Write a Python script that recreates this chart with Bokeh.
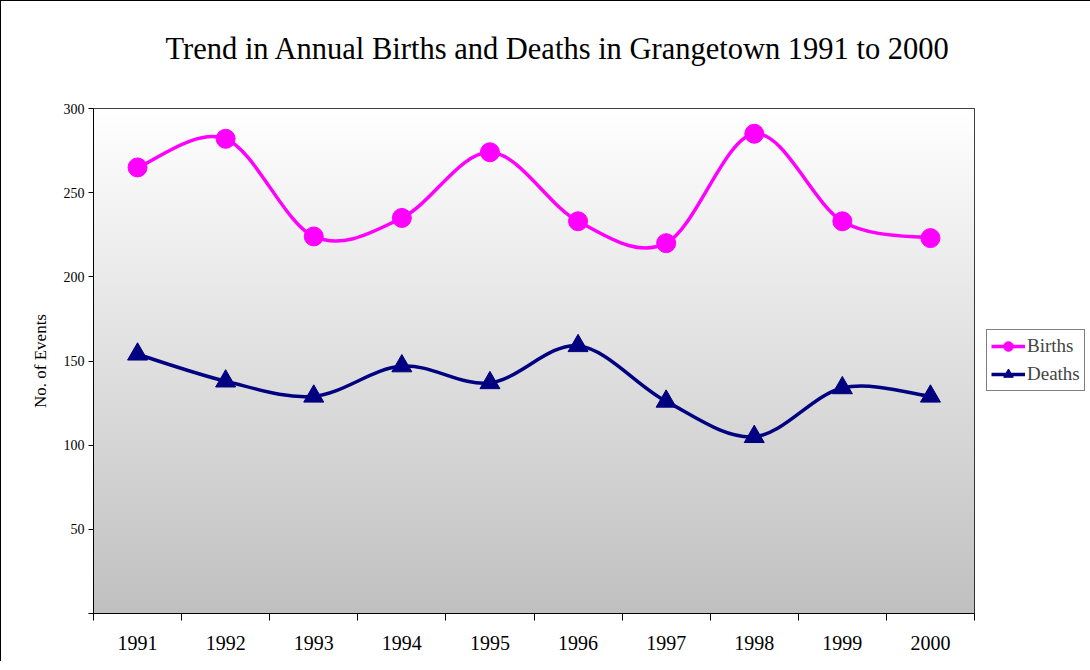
import numpy as np
from bokeh.plotting import figure
from bokeh.models import Range1d, FixedTicker, Legend, LegendItem, Title, ColumnDataSource
from bokeh.embed import file_html
from bokeh.resources import INLINE

years = ["1991", "1992", "1993", "1994", "1995", "1996", "1997", "1998", "1999", "2000"]
births = [265, 282, 224, 235, 274, 233, 220, 285, 233, 223]
deaths = [154, 138, 129, 147, 137, 159, 126, 105, 134, 129]
y_ticks = [0, 50, 100, 150, 200, 250, 300]

SERIF = "Liberation Serif"
n = len(years)
xs = list(range(1, n + 1))

p = figure(frame_width=881, frame_height=505, output_backend="svg", toolbar_location=None,
           x_range=Range1d(0.5, n + 0.5), y_range=Range1d(0, 300),
           min_border_left=92, min_border_right=108, min_border_top=107, min_border_bottom=48)
p.styles = {"border-left": "1px solid black", "border-top": "1px solid black"}
p.background_fill_color = "white"
p.border_fill_color = "white"
p.outline_line_color = "black"
p.outline_line_width = 1

# gradient background of plot area
N = 256
grad = np.zeros((N, 1), dtype=np.uint32)
view = grad.view(dtype=np.uint8).reshape((N, 1, 4))
for i in range(N):
    t = i / (N - 1)  # 0 bottom, 1 top
    c = int(round(192 + (255 - 192) * t))
    view[i, 0, :] = [c, c, c, 255]
p.image_rgba(image=[grad], x=p.x_range.start, y=p.y_range.start,
             dw=p.x_range.end - p.x_range.start, dh=p.y_range.end - p.y_range.start)

# grid
p.xgrid.grid_line_color = None
p.ygrid.grid_line_color = "black"
p.ygrid.grid_line_width = 1
p.ygrid.ticker = FixedTicker(ticks=y_ticks)


def smooth_curve(x, y):
    x = np.asarray(x, float)
    y = np.asarray(y, float)
    m = len(x)
    x0, y0, x1, y1, cx0, cy0, cx1, cy1 = [], [], [], [], [], [], [], []
    for i in range(m - 1):
        ip = max(i - 1, 0)
        inx = min(i + 2, m - 1)
        x0.append(x[i]); y0.append(y[i])
        x1.append(x[i + 1]); y1.append(y[i + 1])
        cx0.append(x[i] + (x[i + 1] - x[ip]) / 6.0)
        cy0.append(y[i] + (y[i + 1] - y[ip]) / 6.0)
        cx1.append(x[i + 1] - (x[inx] - x[i]) / 6.0)
        cy1.append(y[i + 1] - (y[inx] - y[i]) / 6.0)
    return dict(x0=x0, y0=y0, x1=x1, y1=y1, cx0=cx0, cy0=cy0, cx1=cx1, cy1=cy1)


BCOL = "#FF00FF"
DCOL = "#000080"

p.bezier(source=ColumnDataSource(smooth_curve(xs, births)), x0="x0", y0="y0", x1="x1", y1="y1",
         cx0="cx0", cy0="cy0", cx1="cx1", cy1="cy1", line_color=BCOL, line_width=3.5)
p.bezier(source=ColumnDataSource(smooth_curve(xs, deaths)), x0="x0", y0="y0", x1="x1", y1="y1",
         cx0="cx0", cy0="cy0", cx1="cx1", cy1="cy1", line_color=DCOL, line_width=3.5)

bs = p.scatter(xs, births, marker="circle", size=19, fill_color=BCOL, line_color=BCOL)
ds = p.scatter(xs, deaths, marker="triangle", size=20, fill_color=DCOL, line_color=DCOL)

# legend-only line renderers (nothing plotted)
bl = p.line(x=[np.nan, np.nan], y=[np.nan, np.nan], line_color=BCOL, line_width=3.5)
dl = p.line(x=[np.nan, np.nan], y=[np.nan, np.nan], line_color=DCOL, line_width=3.5)

legend = Legend(items=[LegendItem(label="Births", renderers=[bl, bs]),
                       LegendItem(label="Deaths", renderers=[dl, ds])],
                location=(12, 222), orientation="vertical",
                border_line_color="black", border_line_width=1,
                background_fill_color="white", background_fill_alpha=1.0,
                label_text_font=SERIF, label_text_font_size="19px",
                glyph_width=34, glyph_height=24, label_height=24, label_standoff=2,
                padding=4, spacing=4, margin=0)
p.add_layout(legend, "right")

# axes
xa = p.xaxis[0]
xa.ticker = FixedTicker(ticks=xs, minor_ticks=[k + 0.5 for k in range(0, n + 1)])
xa.major_label_overrides = {k: years[k - 1] for k in xs}
xa.major_tick_line_color = None
xa.major_tick_out = 0
xa.major_tick_in = 0
xa.minor_tick_line_color = "black"
xa.minor_tick_out = 7
xa.minor_tick_in = 0
xa.axis_line_color = "black"
xa.major_label_text_font = SERIF
xa.major_label_text_font_size = "20px"
xa.major_label_text_color = "black"
xa.major_label_standoff = 15

ya = p.yaxis[0]
ya.ticker = FixedTicker(ticks=y_ticks)
ya.major_label_overrides = {0: ""}
ya.minor_tick_line_color = None
ya.major_tick_out = 5
ya.major_tick_in = 0
ya.major_tick_line_color = "black"
ya.axis_line_color = "black"
ya.major_label_text_font = SERIF
ya.major_label_text_font_size = "14px"
ya.major_label_text_color = "black"
ya.major_label_standoff = 4
ya.axis_label = "No. of Events"
ya.axis_label_text_font = SERIF
ya.axis_label_text_font_size = "17px"
ya.axis_label_text_font_style = "normal"
ya.axis_label_text_color = "black"
ya.axis_label_standoff = 11

# spacer title (closest to the frame) pushes the real title upward
p.add_layout(Title(text=" ", text_font_size="1px", standoff=40), "above")
p.add_layout(Title(text="Trend in Annual Births and Deaths in Grangetown 1991 to 2000",
                   align="left", text_font=SERIF, text_font_size="30.5px",
                   text_font_style="normal", text_color="black", standoff=0, offset=72), "above")

open("out.html", "w").write(file_html(p, INLINE))
